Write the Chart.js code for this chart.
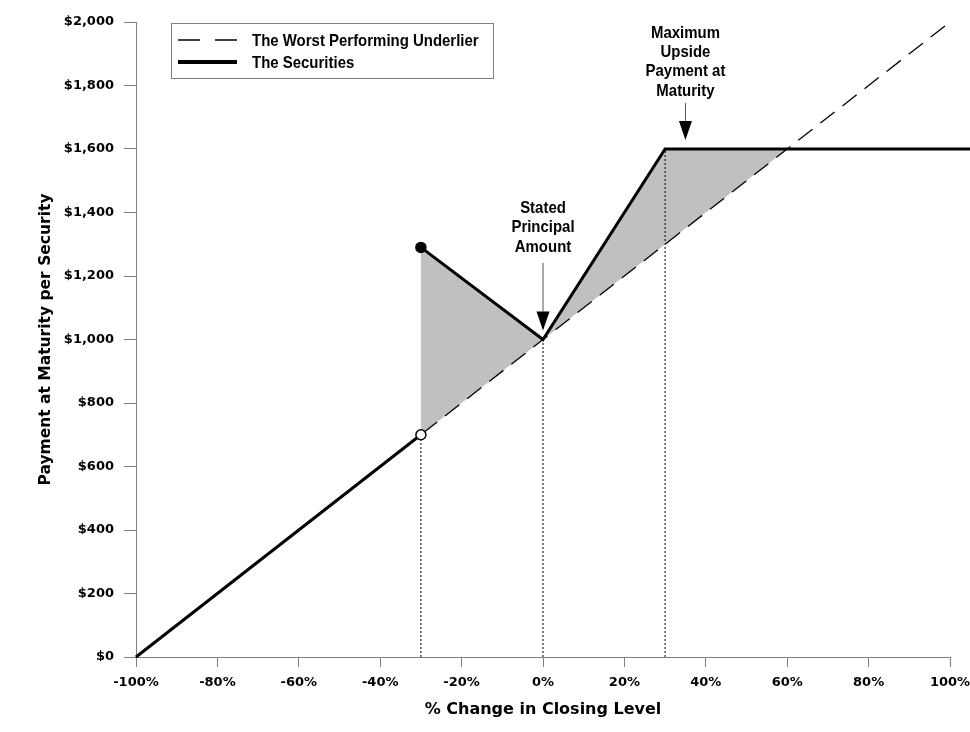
<!DOCTYPE html>
<html>
<head>
<meta charset="utf-8">
<script src="https://cdn.jsdelivr.net/npm/chart.js@4.4.1/dist/chart.umd.min.js"></script>
<style>
html,body{margin:0;padding:0;background:#fff;}
#wrap{width:970px;height:732px;}
</style>
</head>
<body>
<div id="wrap"><canvas id="c" width="970" height="732"></canvas></div>
<script>
// ---- data ----
const xTickValues = [-100, -80, -60, -40, -20, 0, 20, 40, 60, 80, 100];
const yTickValues = [0, 200, 400, 600, 800, 1000, 1200, 1400, 1600, 1800, 2000];

const underlierX = [-100, 100];
const underlierY = [0, 2000];

const securitiesLowX = [-100, -30];
const securitiesLowY = [0, 700];
const securitiesHighX = [-30, 0, 30, 105];
const securitiesHighY = [1290, 1000, 1600, 1600];

const markerX = [-30, -30];
const markerY = [700, 1290];
const markerFilled = [false, true];

const shadeX = [-30, 0, 30, 60];
const shadeTopY = [1290, 1000, 1600, 1600];
const shadeBottomY = [700, 1000, 1300, 1600];

const guideX = [-30, 0, 30];
const guideY = [700, 1000, 1600];

const legendLabels = ['The Worst Performing Underlier', 'The Securities'];

const noteLines = [['Stated', 'Principal', 'Amount'], ['Maximum', 'Upside', 'Payment at', 'Maturity']];
const noteX = [0, 35];
const noteY = [1000, 1600];
const noteTopY = [1241, 1745];
const noteLabelY = [1291, 1783];

const xTitle = '% Change in Closing Level';
const yTitle = 'Payment at Maturity per Security';

// ---- helpers ----
const pts = (xs, ys) => xs.map((x, i) => ({x: x, y: ys[i]}));
const tickFont = {family: 'DejaVu Sans', size: 13, weight: 'bold'};
const xTitleFont = {family: 'DejaVu Sans', size: 16, weight: 'bold'};
const yTitleFont = {family: 'DejaVu Sans', size: 15.5, weight: 'bold'};
const AXIS_GRAY = '#808080';
const NOTE_FONT = 'bold 17px "Liberation Sans", Arial, sans-serif';
const NARROW = 0.88;
const LINE_STEP = 19.3;

function narrowText(ctx, text, x, y, align) {
  ctx.save();
  ctx.translate(x, y);
  ctx.scale(NARROW, 1);
  ctx.textAlign = align;
  ctx.fillText(text, 0, 0);
  ctx.restore();
}

const guideSets = guideX.map((gx, i) => ({
  label: 'guide' + i,
  data: pts([gx, gx], [0, guideY[i]]),
  borderColor: '#000',
  borderWidth: 1,
  borderDash: [2, 2],
  pointRadius: 0,
  fill: false,
  order: 2
}));

const decor = {
  id: 'decor',
  afterDraw(chart) {
    const {ctx, chartArea: ca, scales} = chart;
    const xs = scales.x, ys = scales.y;
    ctx.save();
    // legend box
    const bx = ca.left + 35, by = ca.top + 1, bw = 322, bh = 55;
    ctx.fillStyle = '#fff';
    ctx.fillRect(bx, by, bw, bh);
    ctx.strokeStyle = AXIS_GRAY;
    ctx.lineWidth = 1;
    ctx.strokeRect(bx + 0.5, by + 0.5, bw, bh);
    const rows = [by + 17, by + 39];
    ctx.strokeStyle = '#000';
    ctx.lineWidth = 1.3;
    ctx.setLineDash([22, 15]);
    ctx.beginPath();
    ctx.moveTo(bx + 7, rows[0]);
    ctx.lineTo(bx + 66, rows[0]);
    ctx.stroke();
    ctx.setLineDash([]);
    ctx.lineWidth = 4;
    ctx.beginPath();
    ctx.moveTo(bx + 7, rows[1]);
    ctx.lineTo(bx + 66, rows[1]);
    ctx.stroke();
    ctx.fillStyle = '#000';
    ctx.font = NOTE_FONT;
    ctx.textBaseline = 'middle';
    legendLabels.forEach((t, i) => narrowText(ctx, t, bx + 81, rows[i] + 1, 'left'));

    // annotations
    noteLines.forEach((lines, i) => {
      const px = xs.getPixelForValue(noteX[i]);
      const py = ys.getPixelForValue(noteY[i]);
      const top = ys.getPixelForValue(noteTopY[i]);
      const labelBottom = ys.getPixelForValue(noteLabelY[i]);
      const tip = py - 9;
      const headTop = tip - 19;
      ctx.strokeStyle = '#555';
      ctx.lineWidth = 1;
      ctx.beginPath();
      ctx.moveTo(px, top);
      ctx.lineTo(px, headTop);
      ctx.stroke();
      ctx.fillStyle = '#000';
      ctx.beginPath();
      ctx.moveTo(px - 6.5, headTop);
      ctx.lineTo(px + 6.5, headTop);
      ctx.lineTo(px, tip);
      ctx.closePath();
      ctx.fill();
      const n = lines.length;
      lines.forEach((t, k) => {
        narrowText(ctx, t, px, labelBottom - (n - 1 - k) * LINE_STEP, 'center');
      });
    });
    ctx.restore();
  }
};

new Chart(document.getElementById('c'), {
  type: 'line',
  data: {
    datasets: [
      {label: 'markers', data: pts(markerX, markerY), showLine: false, pointRadius: 5,
        pointBackgroundColor: markerFilled.map(f => f ? '#000' : '#fff'),
        pointBorderColor: '#000', pointBorderWidth: 1.5, clip: false, order: -1},
      {label: 'The Securities (low)', data: pts(securitiesLowX, securitiesLowY), borderColor: '#000',
        borderWidth: 3, pointRadius: 0, fill: false, clip: false, order: 0},
      {label: 'The Securities', data: pts(securitiesHighX, securitiesHighY), borderColor: '#000',
        borderWidth: 3, borderJoinStyle: 'miter', pointRadius: 0, fill: false, clip: false, order: 0},
      {label: 'The Worst Performing Underlier', data: pts(underlierX, underlierY), borderColor: '#000',
        borderWidth: 1.3, borderDash: [18, 10], pointRadius: 0, fill: false, clip: false, order: 1},
      ...guideSets,
      {label: 'shade', data: pts(shadeX, shadeTopY), borderColor: 'rgba(0,0,0,0)', borderWidth: 1,
        backgroundColor: '#c0c0c0', fill: '+1', pointRadius: 0, order: 3},
      {label: 'shadeBase', data: pts(shadeX, shadeBottomY), borderColor: 'rgba(0,0,0,0)', borderWidth: 1,
        fill: false, pointRadius: 0, order: 4}
    ]
  },
  options: {
    responsive: false,
    animation: false,
    events: [],
    layout: {padding: {top: 22, right: 20, bottom: 0, left: 0}},
    plugins: {legend: {display: false}, tooltip: {enabled: false}},
    scales: {
      x: {
        type: 'linear', min: -100, max: 100,
        afterBuildTicks: s => { s.ticks = xTickValues.map(v => ({value: v})); },
        afterFit: s => { s.height = 75; s.paddingRight = 0; s.paddingLeft = 0; },
        grid: {drawOnChartArea: false, drawTicks: true, tickLength: 10, color: AXIS_GRAY},
        border: {display: true, color: AXIS_GRAY, width: 1},
        ticks: {font: tickFont, color: '#000', padding: 8, maxRotation: 0, autoSkip: false,
          callback: v => v + '%'},
        title: {display: true, text: xTitle, font: xTitleFont, color: '#000', padding: {top: 0, bottom: 13}}
      },
      y: {
        min: 0, max: 2000,
        afterBuildTicks: s => { s.ticks = yTickValues.map(v => ({value: v})); },
        afterFit: s => { s.width = 136; },
        grid: {drawOnChartArea: false, drawTicks: true, tickLength: 12, color: AXIS_GRAY},
        border: {display: true, color: AXIS_GRAY, width: 1},
        ticks: {font: tickFont, color: '#000', padding: 10, autoSkip: false,
          callback: v => '$' + Number(v).toLocaleString('en-US')},
        title: {display: true, text: yTitle, font: yTitleFont, color: '#000', padding: {top: 37, bottom: 0}}
      }
    }
  },
  plugins: [decor]
});
</script>
</body>
</html>
